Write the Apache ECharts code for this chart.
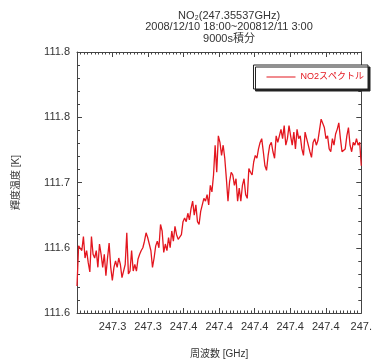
<!DOCTYPE html>
<html>
<head>
<meta charset="utf-8">
<script src="https://cdn.jsdelivr.net/npm/echarts@6/dist/echarts.min.js"></script>
<style>
  html, body { margin: 0; padding: 0; background: #fff; }
  #chart { width: 375px; height: 364px; }
</style>
</head>
<body>
<div id="chart"></div>
<script>
const titleLines = ['NO₂(247.35537GHz)', '2008/12/10 18:00~200812/11 3:00', '9000s積分']
const seriesName = 'NO2スペクトル'
const xAxisName = '周波数 [GHz]'
const yAxisName = '輝度温度 [K]'

// tick labels along the frequency axis (index 0 is the left edge, unlabeled)
const xTickLabels = ['', '247.3', '247.3', '247.4', '247.4', '247.4', '247.4', '247.4', '247.']
const yMin = 111.56
const yMax = 111.84
const yStep = 0.07

// brightness temperature [K], one sample per channel
const brightness = [
  111.589, 111.632, 111.630, 111.627, 111.642, 111.619, 111.627, 111.614, 111.604, 111.642,
  111.623, 111.619, 111.627, 111.609, 111.634, 111.623, 111.609, 111.623, 111.600, 111.619,
  111.635, 111.609, 111.595, 111.609, 111.616, 111.609, 111.619, 111.612, 111.598, 111.605,
  111.612, 111.646, 111.602, 111.605, 111.627, 111.605, 111.612, 111.605, 111.618, 111.623,
  111.627, 111.630, 111.637, 111.646, 111.641, 111.634, 111.627, 111.609, 111.619, 111.632,
  111.637, 111.630, 111.655, 111.648, 111.625, 111.634, 111.627, 111.641, 111.630, 111.648,
  111.637, 111.653, 111.644, 111.639, 111.637, 111.644, 111.658, 111.662, 111.658, 111.667,
  111.660, 111.672, 111.680, 111.665, 111.676, 111.658, 111.655, 111.669, 111.676, 111.683,
  111.680, 111.687, 111.676,
  111.697, 111.690, 111.708, 111.740, 111.711, 111.750, 111.743, 111.729, 111.740, 111.726,
  111.704, 111.680, 111.701, 111.711, 111.708, 111.697, 111.704, 111.680, 111.694, 111.680,
  111.697, 111.704, 111.687, 111.683, 111.715, 111.711, 111.708, 111.722, 111.729, 111.726,
  111.736, 111.743, 111.747, 111.733, 111.718, 111.713, 111.729, 111.740, 111.743, 111.733,
  111.726, 111.750, 111.743, 111.750, 111.757, 111.747, 111.761, 111.740, 111.747, 111.761,
  111.750, 111.740, 111.754, 111.736, 111.757, 111.747, 111.750, 111.736, 111.729, 111.754,
  111.747, 111.740, 111.733, 111.727, 111.743, 111.747, 111.740, 111.745, 111.747, 111.768,
  111.766, 111.759, 111.747, 111.750, 111.736, 111.733, 111.747, 111.740, 111.752, 111.757,
  111.764, 111.747, 111.733, 111.731, 111.736, 111.750, 111.759, 111.740, 111.733, 111.743,
  111.740, 111.747, 111.740, 111.743, 111.718
]

const xSpan = xTickLabels.length - 1
const points = brightness.map((v, i) => [i * xSpan / (brightness.length - 1), v])

const font = '"Liberation Sans", "Noto Sans CJK JP", sans-serif'
const textColor = '#333'
const frameColor = '#444'
const lineColor = '#e3161f'

const chart = echarts.init(document.getElementById('chart'), null, { renderer: 'canvas' })

const commonX = {
  type: 'value',
  min: 0,
  max: xSpan,
  interval: 1,
  axisLine: { show: true, onZero: false, lineStyle: { color: frameColor, width: 1 } },
  axisTick: { show: true, inside: true, length: 5, lineStyle: { color: frameColor } },
  minorTick: { show: true, splitNumber: 10, length: 2.5, lineStyle: { color: frameColor } },
  splitLine: { show: false }
}

const commonY = {
  type: 'value',
  min: yMin,
  max: yMax,
  interval: yStep,
  axisLine: { show: true, onZero: false, lineStyle: { color: frameColor, width: 1 } },
  axisTick: { show: true, inside: true, length: 5, lineStyle: { color: frameColor } },
  minorTick: { show: true, splitNumber: 5, length: 3, lineStyle: { color: frameColor } },
  splitLine: { show: false }
}

chart.setOption({
  animation: false,
  backgroundColor: '#fff',
  title: {
    text: titleLines.join('\n'),
    left: 224,
    top: 5,
    textAlign: 'center',
    textStyle: {
      color: textColor,
      fontFamily: font,
      fontSize: 11,
      fontWeight: 'normal',
      lineHeight: 11.5
    }
  },
  grid: {
    left: 77,
    right: 4,
    top: 52,
    bottom: 48,
    containLabel: false
  },
  legend: {
    right: 7,
    top: 65,
    orient: 'horizontal',
    icon: 'rect',
    itemWidth: 29,
    itemHeight: 1,
    itemGap: 4,
    padding: [6, 4, 6, 13],
    backgroundColor: '#fff',
    borderColor: '#222',
    borderWidth: 1,
    shadowColor: '#222',
    shadowOffsetX: 2,
    shadowOffsetY: 2,
    shadowBlur: 0,
    itemStyle: { color: lineColor, borderWidth: 0 },
    textStyle: { color: lineColor, fontFamily: font, fontSize: 9, lineHeight: 12 },
    data: [seriesName]
  },
  xAxis: [
    {
      ...commonX,
      position: 'bottom',
      name: xAxisName,
      nameLocation: 'middle',
      nameGap: 36,
      nameTextStyle: { color: textColor, fontFamily: font, fontSize: 10 },
      axisLabel: {
        show: true,
        color: textColor,
        fontFamily: font,
        fontSize: 11,
        margin: 8,
        showMinLabel: true,
        showMaxLabel: true,
        formatter: (v) => xTickLabels[Math.round(v)] || ''
      }
    },
    {
      ...commonX,
      position: 'top',
      axisLabel: { show: false }
    }
  ],
  yAxis: [
    {
      ...commonY,
      position: 'left',
      name: yAxisName,
      nameLocation: 'middle',
      nameGap: 56,
      nameRotate: 90,
      nameTextStyle: { color: textColor, fontFamily: font, fontSize: 10 },
      axisLabel: {
        show: true,
        color: textColor,
        fontFamily: font,
        fontSize: 11,
        margin: 7,
        showMinLabel: true,
        showMaxLabel: true,
        formatter: (v) => v.toFixed(1)
      }
    },
    {
      ...commonY,
      position: 'right',
      axisLabel: { show: false }
    }
  ],
  series: [
    {
      name: seriesName,
      type: 'line',
      xAxisIndex: 0,
      yAxisIndex: 0,
      data: points,
      symbol: 'none',
      showSymbol: false,
      clip: true,
      lineStyle: { color: lineColor, width: 1.3 },
      itemStyle: { color: lineColor }
    }
  ]
})
</script>
</body>
</html>
